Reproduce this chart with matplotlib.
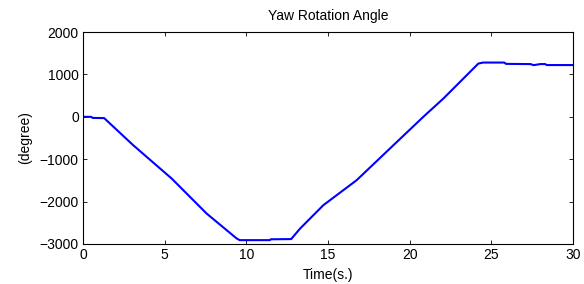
import matplotlib
matplotlib.use('Agg')
from matplotlib import pyplot as plt

# yaw angle samples
time_s = [0, 0.5, 0.6, 1.3, 3.08, 5.43, 7.57, 9.41, 9.6,
          11.45, 11.5, 12.75, 13.3, 14.72, 16.76, 18.9, 20.84, 22.07, 23.8,
          24.21, 24.5, 25.8, 25.9, 27.4, 27.6, 28.0, 28.3, 28.4, 30]
yaw_deg = [0, 0, -25, -30, -670, -1455, -2281, -2870, -2910,
           -2910, -2890, -2885, -2635, -2085, -1495, -710, 0, 432, 1099,
           1257, 1281, 1281, 1250, 1245, 1220, 1245, 1245, 1222, 1222]

x_ticks = [0, 5, 10, 15, 20, 25, 30]
y_ticks = [-3000, -2000, -1000, 0, 1000, 2000]

plt.rcParams['font.family'] = ['Liberation Sans', 'DejaVu Sans']
plt.rcParams['font.size'] = 10

fig = plt.figure(figsize=(5.84, 2.84), dpi=100)
ax = fig.add_axes([0.142, 0.141, 0.839, 0.746])
ax.plot(time_s, yaw_deg, color=(0, 0, 1), linewidth=1.5)
ax.set_xlim(0, 30)
ax.set_ylim(-3000, 2000)
ax.set_xticks(x_ticks)
ax.set_yticks(y_ticks)
ax.tick_params(direction='in', length=3, width=0.6, top=True, right=True, pad=3)
for s in ax.spines.values():
    s.set_linewidth(0.8)
ax.set_title('Yaw Rotation Angle', fontsize=10, pad=9)
ax.set_xlabel('Time(s.)', labelpad=4)
ax.set_ylabel('(degree)', labelpad=5)

fig.savefig('out.png', dpi=100)
